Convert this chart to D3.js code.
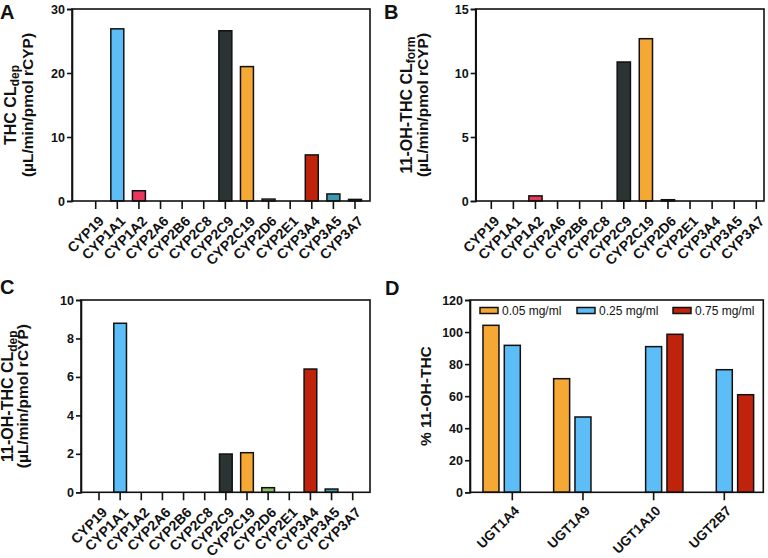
<!DOCTYPE html>
<html>
<head>
<meta charset="utf-8">
<script src="https://cdn.jsdelivr.net/npm/d3@7"></script>
<style>
  html, body { margin: 0; padding: 0; background: #fff; }
  svg { display: block; }
  text { font-family: "Liberation Sans", Arial, Helvetica, sans-serif; }
</style>
</head>
<body>
<svg id="chart" width="768" height="558"></svg>
<script>
// ---------------- DATA ----------------
const cyps = ["CYP19","CYP1A1","CYP1A2","CYP2A6","CYP2B6","CYP2C8","CYP2C9","CYP2C19","CYP2D6","CYP2E1","CYP3A4","CYP3A5","CYP3A7"];
const thcDep      = [0, 26.9, 1.6, 0, 0, 0, 26.6, 21.0, 0.3, 0, 7.2, 1.1, 0.25];
const ohThcForm   = [0, 0, 0.4, 0, 0, 0, 10.86, 12.68, 0.1, 0, 0, 0, 0];
const ohThcDep    = [0, 8.79, 0, 0, 0, 0, 1.99, 2.06, 0.24, 0, 6.41, 0.17, 0];
const yTicksA = [0, 10, 20, 30];
const yTicksB = [0, 5, 10, 15];
const yTicksC = [0, 2, 4, 6, 8, 10];

const ugts = ["UGT1A4","UGT1A9","UGT1A10","UGT2B7"];
const concs = ["0.05 mg/ml","0.25 mg/ml","0.75 mg/ml"];
const pct005 = [104.2, 70.9, null, null];
const pct025 = [91.7, 47.0, 90.9, 76.5];
const pct075 = [null, null, 98.6, 60.9];
const yTicksD = [0, 20, 40, 60, 80, 100, 120];

// ---------------- STYLE ----------------
const cypColor = {
  "CYP19": "#888888", "CYP1A1": "#5DBDF7", "CYP1A2": "#E8395C", "CYP2A6": "#999999",
  "CYP2B6": "#999999", "CYP2C8": "#999999", "CYP2C9": "#2B3433", "CYP2C19": "#F5A833",
  "CYP2D6": "#86C46A", "CYP2E1": "#999999", "CYP3A4": "#C0230C", "CYP3A5": "#3A9AB1",
  "CYP3A7": "#7A6A8A"
};
const concColor = ["#F5A833", "#5DBDF7", "#C0230C"];
const FONT = '"Liberation Sans", Arial, Helvetica, sans-serif';

const svg = d3.select("#chart");

function drawFrame(g, L, R, T, B) {
  g.append("rect").attr("x", L).attr("y", T).attr("width", R - L).attr("height", B - T)
    .attr("fill", "none").attr("stroke", "#111").attr("stroke-width", 1.6);
}

function yAxis(g, y, L, ticks) {
  const ax = g.append("g").attr("transform", `translate(${L},0)`)
    .call(d3.axisLeft(y).tickValues(ticks).tickSize(5).tickPadding(2).tickFormat(d3.format("d")));
  ax.select(".domain").attr("stroke", "#111").attr("stroke-width", 1.6);
  ax.selectAll(".tick line").attr("stroke", "#111").attr("stroke-width", 1.6);
  ax.selectAll("text").attr("fill", "#111").style("font-size", "12.5px").style("font-weight", "bold").style("font-family", FONT);
}

function xAxis(g, x, B, fontSize, offX, offY) {
  const ax = g.append("g").attr("transform", `translate(0,${B})`)
    .call(d3.axisBottom(x).tickSize(8).tickSizeOuter(0));
  ax.select(".domain").remove();
  ax.selectAll(".tick line").attr("stroke", "#111").attr("stroke-width", 1.6);
  ax.selectAll("text")
    .attr("x", 0).attr("y", 0).attr("dy", "0.71em")
    .attr("transform", `translate(${offX},${offY}) rotate(-45)`)
    .style("text-anchor", "end")
    .attr("fill", "#111").style("font-size", fontSize + "px").style("font-weight", "bold").style("font-family", FONT);
}

function yTitle(g, cx1, cx2, cy, main, sub, line2) {
  const t1 = g.append("text").attr("transform", `translate(${cx1},${cy}) rotate(-90)`)
    .attr("text-anchor", "middle").attr("dy", "0.35em")
    .style("font-size", "16px").style("font-weight", "bold").attr("fill", "#111");
  t1.append("tspan").text(main);
  if (sub) t1.append("tspan").attr("dy", 3.5).style("font-size", "12px").text(sub);
  if (line2) {
    g.append("text").attr("transform", `translate(${cx2},${cy}) rotate(-90)`)
      .attr("text-anchor", "middle").attr("dy", "0.35em")
      .style("font-size", "15.5px").style("font-weight", "bold").attr("fill", "#111").text(line2);
  }
}

function panelLabel(x, y, t) {
  svg.append("text").attr("x", x).attr("y", y).text(t)
    .style("font-size", "20px").style("font-weight", "bold").attr("fill", "#111");
}

function cypPanel(p) {
  const g = svg.append("g");
  const step = (p.last - p.first) / (cyps.length - 1);
  const x = d3.scaleBand().domain(cyps)
    .range([p.first - step / 2, p.last + step / 2])
    .paddingInner(0.4).paddingOuter(0.2);
  const y = d3.scaleLinear().domain([0, p.ymax]).range([p.B, p.T]);
  const data = cyps.map((c, i) => ({ c, v: p.values[i] }));
  g.selectAll("rect.bar").data(data.filter(d => d.v > 0)).join("rect")
    .attr("class", "bar")
    .attr("x", d => x(d.c)).attr("width", x.bandwidth())
    .attr("y", d => y(d.v)).attr("height", d => y(0) - y(d.v))
    .attr("fill", d => cypColor[d.c]).attr("stroke", "#111").attr("stroke-width", 1.5);
  drawFrame(g, p.L, p.R, p.T, p.B);
  yAxis(g, y, p.L, p.ticks);
  xAxis(g, x, p.B, 14, 2, 14);
  yTitle(g, p.t1, p.t2, (p.T + p.B) / 2, p.main, p.sub, "(\u00B5L/min/pmol rCYP)");
}

cypPanel({ L: 72, R: 370, T: 9, B: 201, first: 95.7, last: 355, ymax: 30, ticks: yTicksA,
  values: thcDep, t1: 10, t2: 28, main: "THC CL", sub: "dep" });
cypPanel({ L: 475.7, R: 764, T: 9, B: 201, first: 491.3, last: 756.3, ymax: 15, ticks: yTicksB,
  values: ohThcForm, t1: 406, t2: 423, main: "11-OH-THC CL", sub: "form" });
cypPanel({ L: 81, R: 370, T: 300, B: 492.3, first: 99, last: 352.7, ymax: 10, ticks: yTicksC,
  values: ohThcDep, t1: 7.5, t2: 23, main: "11-OH-THC CL", sub: "dep" });

// ---------------- Panel D ----------------
(function () {
  const L = 470, R = 763.3, T = 300, B = 492.3;
  const first = 512.3, last = 724.3;
  const g = svg.append("g");
  const step = (last - first) / (ugts.length - 1);
  const x = d3.scaleBand().domain(ugts).range([first - step / 2, last + step / 2]);
  const xi = d3.scaleBand().domain(concs).range([-32, 32]).paddingInner(0.25).paddingOuter(0.125);
  const y = d3.scaleLinear().domain([0, 120]).range([B, T]);
  const series = [pct005, pct025, pct075];
  const data = [];
  ugts.forEach((u, i) => concs.forEach((c, j) => {
    if (series[j][i] != null) data.push({ u, c, j, v: series[j][i] });
  }));
  g.selectAll("rect.bar").data(data).join("rect")
    .attr("x", d => x(d.u) + x.bandwidth() / 2 + xi(d.c)).attr("width", xi.bandwidth())
    .attr("y", d => y(d.v)).attr("height", d => y(0) - y(d.v))
    .attr("fill", d => concColor[d.j]).attr("stroke", "#111").attr("stroke-width", 1.5);
  drawFrame(g, L, R, T, B);
  yAxis(g, y, L, yTicksD);
  xAxis(g, x, B, 13.5, 1, 12.5);
  g.append("text").attr("transform", `translate(426,${(T + B) / 2}) rotate(-90)`)
    .attr("text-anchor", "middle").attr("dy", "0.35em")
    .style("font-size", "15.5px").style("font-weight", "bold").attr("fill", "#111").text("% 11-OH-THC");
  // legend
  const lx = [480, 577, 673];
  const leg = g.append("g");
  concs.forEach((c, j) => {
    leg.append("rect").attr("x", lx[j]).attr("y", 307.5).attr("width", 18).attr("height", 6)
      .attr("fill", concColor[j]).attr("stroke", "#111").attr("stroke-width", 1.5);
    leg.append("text").attr("x", lx[j] + 22).attr("y", 310.5).attr("dy", "0.35em").text(c)
      .style("font-size", "12px").attr("fill", "#111");
  });
})();

panelLabel(0, 18.5, "A");
panelLabel(384, 18.5, "B");
panelLabel(0, 294, "C");
panelLabel(385, 295, "D");
</script>
</body>
</html>
